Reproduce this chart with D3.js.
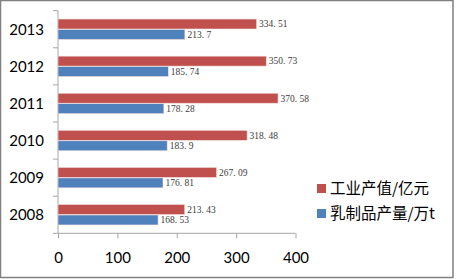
<!DOCTYPE html>
<html>
<head>
<meta charset="utf-8">
<script src="https://cdn.jsdelivr.net/npm/d3@7"></script>
<style>
  body { margin: 0; background: #fff; }
  svg { display: block; }
</style>
</head>
<body>
<div class="chart"></div>
<script>
const years = ['2013', '2012', '2011', '2010', '2009', '2008']
const seriesNames = ['工业产值/亿元', '乳制品产量/万t']
const outputValues = [334.51, 350.73, 370.58, 318.48, 267.09, 213.43]
const dairyValues = [213.7, 185.74, 178.28, 183.9, 176.81, 168.53]
const xTicks = [0, 100, 200, 300, 400]
const colors = ['#c0504d', '#4f81bd']

const width = 456
const height = 279
const plot = { left: 58, right: 295.5, top: 10.7, bottom: 233.3 }

const rows = years.map((year, i) => ({ year, values: [outputValues[i], dairyValues[i]] }))

const svg = d3.select('.chart')
  .append('svg')
  .attr('width', width)
  .attr('height', height)

// outer frame
svg.append('rect')
  .attr('x', 0.5)
  .attr('y', 0.5)
  .attr('width', 452.5)
  .attr('height', 277)
  .attr('fill', '#fff')
  .attr('stroke', '#808080')
  .attr('stroke-width', 1.5)

const xScale = d3.scaleLinear()
  .domain([0, 400])
  .range([plot.left, plot.right])

const yScale = d3.scaleBand()
  .domain(years)
  .range([plot.top, plot.bottom])

const bw = yScale.bandwidth()
const seriesScale = d3.scaleBand()
  .domain([0, 1])
  .range([bw * 0.225, bw * 0.775])
  .paddingInner(0.05)

// x axis
const xAxis = svg.append('g')
  .attr('transform', `translate(0, ${plot.bottom})`)
  .call(d3.axisBottom(xScale).tickValues(xTicks).tickSize(5).tickPadding(14))
xAxis.select('.domain').remove()
xAxis.selectAll('line').attr('stroke', '#a6a6a6')
xAxis.selectAll('text')
  .attr('font-family', 'Lato, sans-serif')
  .attr('font-size', 15)
  .attr('fill', '#000')

svg.append('line')
  .attr('x1', plot.left - 5)
  .attr('x2', plot.right)
  .attr('y1', plot.bottom)
  .attr('y2', plot.bottom)
  .attr('stroke', '#a6a6a6')

// y axis
svg.append('line')
  .attr('x1', plot.left)
  .attr('x2', plot.left)
  .attr('y1', plot.top)
  .attr('y2', plot.bottom)
  .attr('stroke', '#a6a6a6')

svg.append('g')
  .selectAll('line')
  .data(years)
  .join('line')
    .attr('x1', plot.left - 5)
    .attr('x2', plot.left)
    .attr('y1', d => yScale(d))
    .attr('y2', d => yScale(d))
    .attr('stroke', '#a6a6a6')

svg.append('g')
  .selectAll('text')
  .data(years)
  .join('text')
    .attr('x', 44)
    .attr('y', d => yScale(d) + bw / 2)
    .attr('dy', '0.36em')
    .attr('text-anchor', 'end')
    .attr('font-family', 'Lato, sans-serif')
    .attr('font-size', 15)
    .text(d => d)

// bars
const groups = svg.append('g')
  .selectAll('g')
  .data(rows)
  .join('g')
    .attr('transform', d => `translate(0, ${yScale(d.year)})`)

groups.selectAll('rect')
  .data(d => d.values)
  .join('rect')
    .attr('x', xScale(0))
    .attr('y', (d, i) => seriesScale(i))
    .attr('width', d => xScale(d) - xScale(0))
    .attr('height', seriesScale.bandwidth())
    .attr('fill', (d, i) => colors[i])
    .attr('stroke', '#f2dcdb')
    .attr('stroke-width', 0.6)

groups.selectAll('text')
  .data(d => d.values)
  .join('text')
    .attr('x', d => xScale(d) + 2.5)
    .attr('y', (d, i) => seriesScale(i) + seriesScale.bandwidth() / 2)
    .attr('dy', '0.35em')
    .attr('font-family', '"Liberation Serif", serif')
    .attr('font-size', 9.5)
    .attr('fill', '#404040')
    .text(d => String(d).replace('.', '. '))

// legend
const legend = svg.append('g')
  .selectAll('g')
  .data(seriesNames)
  .join('g')
    .attr('transform', (d, i) => `translate(317, ${184 + i * 25})`)

legend.append('rect')
  .attr('width', 9)
  .attr('height', 9)
  .attr('fill', (d, i) => colors[i])

legend.append('text')
  .attr('x', 13)
  .attr('y', 4.5)
  .attr('dy', '0.36em')
  .attr('font-family', '"Noto Sans CJK SC", sans-serif')
  .attr('font-size', 15.5)
  .text(d => d)
</script>
</body>
</html>
